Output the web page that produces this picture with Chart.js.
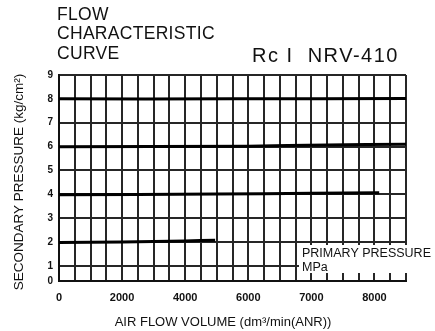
<!DOCTYPE html>
<html>
<head>
<meta charset="utf-8">
<title>Flow characteristic curve</title>
<script src="https://cdn.jsdelivr.net/npm/chart.js@4/dist/chart.umd.min.js"></script>
<style>
  html, body { margin: 0; padding: 0; background: #fff; }
  #wrap { width: 435px; height: 331px; position: relative; }
</style>
</head>
<body>
<div id="wrap"><canvas id="myChart" width="435" height="331"></canvas></div>
<script>
'use strict';

// ******* DATA *******

// x is counted in grid divisions (22 across); a flow label is printed every 4th one
let xDivisions = 22;
let xLabelEvery = 4;
let xTickLabels = ['0', '2000', '4000', '6000', '7000', '8000'];

// secondary pressure scale, bottom line is printed as 0
let yTickValues = [1, 2, 3, 4, 5, 6, 7, 8, 9];
let yBottom = 0.37;

// one curve per primary pressure setting
let curveP2x = [0, 4, 8, 9.9];
let curveP2y = [1.98, 2.0, 2.05, 2.08];
let curveP4x = [0, 10, 16, 20.3];
let curveP4y = [3.98, 4.01, 4.05, 4.07];
let curveP6x = [0, 12, 17, 22];
let curveP6y = [5.99, 6.02, 6.07, 6.1];
let curveP8x = [0, 11, 22];
let curveP8y = [8.0, 8.0, 8.02];


// ******* HELPERS *******

function toPoints(xs, ys) {
  let pts = [];
  for (let i = 0; i < xs.length; i++) {
    pts.push({ x: xs[i], y: ys[i] });
  }
  return pts;
}

function curve(label, xs, ys) {
  return {
    label: label,
    data: toPoints(xs, ys),
    borderColor: '#000',
    borderWidth: 3,
    pointRadius: 0,
    tension: 0.3,
    fill: false
  };
}

// titles, axis names and the primary pressure note
let textPlugin = {
  id: 'textPlugin',
  afterDraw(chart) {
    let ctx = chart.ctx;
    ctx.save();
    ctx.fillStyle = '#111';
    ctx.textBaseline = 'middle';

    ctx.font = '17.5px "Liberation Sans", Arial, sans-serif';
    ctx.textAlign = 'left';
    ctx.letterSpacing = '0.3px';
    ctx.fillText('FLOW', 57, 15);
    ctx.fillText('CHARACTERISTIC', 57, 34);
    ctx.fillText('CURVE', 57, 54);

    ctx.font = '20px "Liberation Sans", Arial, sans-serif';
    ctx.letterSpacing = '1.5px';
    ctx.fillText('Rc I  NRV-410', 252, 56);
    ctx.letterSpacing = '0px';

    ctx.font = '13px "Liberation Sans", Arial, sans-serif';
    ctx.textAlign = 'center';
    ctx.fillText('AIR FLOW VOLUME (dm\u00b3/min(ANR))', 223, 322);

    ctx.save();
    ctx.translate(19, 182);
    ctx.rotate(-Math.PI / 2);
    ctx.font = '13.5px "Liberation Sans", Arial, sans-serif';
    ctx.fillText('SECONDARY PRESSURE (kg/cm\u00b2)', 0, 0);
    ctx.restore();

    ctx.fillStyle = '#fff';
    ctx.fillRect(299, 245, 136, 28);
    ctx.fillStyle = '#111';
    ctx.font = '12.5px "Liberation Sans", Arial, sans-serif';
    ctx.textAlign = 'left';
    ctx.fillText('PRIMARY PRESSURE', 302, 254);
    ctx.fillText('MPa', 302, 268);
    ctx.restore();
  }
};


// ******* CHART *******

const ctx = document.getElementById('myChart').getContext('2d');
const myChart = new Chart(ctx, {
  type: 'line',
  data: {
    datasets: [
      curve('P2', curveP2x, curveP2y),
      curve('P4', curveP4x, curveP4y),
      curve('P6', curveP6x, curveP6y),
      curve('P8', curveP8x, curveP8y)
    ]
  },
  options: {
    responsive: false,
    animation: false,
    layout: { padding: { left: 0, top: 75, right: 29, bottom: 0 } },
    plugins: {
      legend: { display: false },
      tooltip: { enabled: false }
    },
    scales: {
      x: {
        type: 'linear',
        min: 0,
        max: xDivisions,
        afterBuildTicks(axis) {
          let ticks = [];
          for (let i = 0; i <= xDivisions; i++) {
            ticks.push({ value: i });
          }
          axis.ticks = ticks;
        },
        afterFit(axis) { axis.height = 50; },
        grid: { color: '#262626', lineWidth: 2, drawTicks: false },
        border: { color: '#111', width: 2 },
        ticks: {
          autoSkip: false,
          maxRotation: 0,
          padding: 10,
          color: '#111',
          font: { family: '"Liberation Sans", Arial, sans-serif', size: 11, weight: 'bold' },
          callback(value) {
            if (value % xLabelEvery !== 0) return '';
            return xTickLabels[value / xLabelEvery];
          }
        }
      },
      y: {
        type: 'linear',
        min: yBottom,
        max: 9,
        afterBuildTicks(axis) {
          let ticks = [{ value: yBottom }];
          for (let i = 0; i < yTickValues.length; i++) {
            ticks.push({ value: yTickValues[i] });
          }
          axis.ticks = ticks;
        },
        afterFit(axis) { axis.width = 59; },
        grid: { color: '#262626', lineWidth: 2, drawTicks: false },
        border: { color: '#111', width: 2 },
        ticks: {
          padding: 6,
          color: '#111',
          font: { family: '"Liberation Sans", Arial, sans-serif', size: 10, weight: 'bold' },
          callback(value) {
            return value === yBottom ? '0' : value;
          }
        }
      }
    }
  },
  plugins: [textPlugin]
});
</script>
</body>
</html>
